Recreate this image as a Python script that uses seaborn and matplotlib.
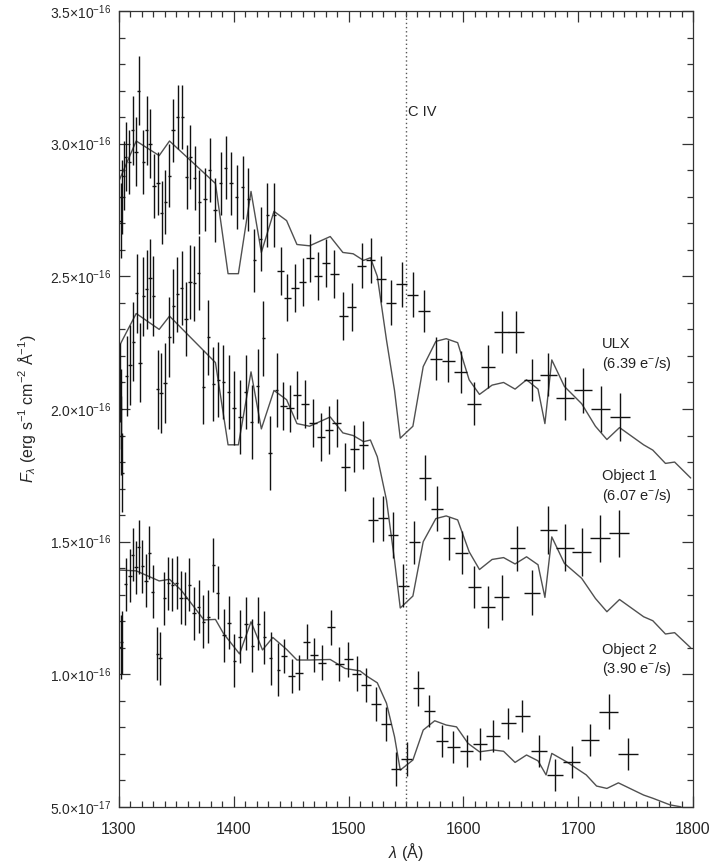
import matplotlib
matplotlib.use("Agg")
import matplotlib.pyplot as plt
import seaborn as sns
import pandas as pd
from matplotlib.ticker import MultipleLocator, FixedLocator, FixedFormatter

# ---------------------------------------------------------------- data
# Flux densities are in units of 1e-16 erg s^-1 cm^-2 A^-1, wavelengths in A.

# Model spectra (thin grey curves)
model_ulx_wave = [1300, 1315, 1335, 1344, 1384, 1395, 1404, 1415, 1424, 1435, 1446,
                  1455, 1466, 1484, 1495, 1504, 1513, 1519, 1525, 1533, 1540, 1545,
                  1556, 1565, 1576, 1585, 1595, 1605, 1614, 1625, 1635, 1645, 1655,
                  1665, 1671, 1677, 1688, 1703, 1715, 1725, 1736, 1757, 1765, 1776,
                  1784, 1798]
model_ulx_flux = [2.86, 3.01, 2.955, 3.01, 2.85, 2.51, 2.51, 2.82, 2.59, 2.745, 2.71,
                  2.62, 2.615, 2.65, 2.59, 2.585, 2.56, 2.57, 2.50, 2.26, 2.07, 1.89,
                  1.935, 2.16, 2.255, 2.265, 2.25, 2.11, 2.055, 2.09, 2.10, 2.075, 2.11,
                  2.075, 1.945, 2.185, 2.085, 2.02, 1.935, 1.885, 1.93, 1.865, 1.845, 1.795,
                  1.80, 1.74]
model_obj1_wave = model_ulx_wave
model_obj1_flux = [2.235, 2.36, 2.30, 2.35, 2.175, 1.865, 1.865, 2.14, 1.925, 2.07, 2.035,
                   1.945, 1.935, 1.97, 1.91, 1.90, 1.877, 1.883, 1.82, 1.657, 1.43, 1.25,
                   1.295, 1.50, 1.587, 1.597, 1.582, 1.462, 1.395, 1.433, 1.44, 1.416, 1.443,
                   1.413, 1.29, 1.518, 1.418, 1.362, 1.286, 1.236, 1.282, 1.217, 1.202, 1.152,
                   1.157, 1.10]
model_obj2_wave = [1300, 1315, 1335, 1344, 1354, 1374, 1384, 1391, 1405, 1415, 1425, 1434,
                   1446, 1455, 1466, 1484, 1497, 1510, 1516, 1525, 1533, 1540, 1545, 1556,
                   1565, 1575, 1585, 1594, 1604, 1614, 1626, 1635, 1645, 1655, 1665, 1672,
                   1677, 1690, 1707, 1716, 1725, 1735, 1757, 1765, 1780, 1789, 1798]
model_obj2_flux = [1.393, 1.39, 1.352, 1.358, 1.318, 1.205, 1.207, 1.154, 1.077, 1.198, 1.092,
                   1.139, 1.094, 1.054, 1.054, 1.056, 1.022, 1.013, 0.993, 0.968, 0.891, 0.765,
                   0.639, 0.677, 0.79, 0.825, 0.809, 0.802, 0.74, 0.708, 0.715, 0.71, 0.668,
                   0.696, 0.674, 0.621, 0.702, 0.67, 0.621, 0.579, 0.57, 0.591, 0.545, 0.533,
                   0.508, 0.501, 0.48]

# Binned data: ULX
ulx_wave = [1301.5, 1302.5, 1304.0, 1306.0, 1309.0, 1312.0, 1314.8, 1317.0, 1321.0, 1324.0,
            1327.0, 1330.5, 1334.0, 1337.2, 1340.3, 1343.8, 1347.0, 1351.0, 1355.0, 1359.0,
            1362.0, 1366.0, 1370.0, 1375.0, 1379.0, 1383.6, 1388.6, 1393.0, 1397.6, 1402.5,
            1407.8, 1412.6, 1417.9, 1423.5, 1429.3, 1435.3,
            1440.8, 1446.6, 1453.3, 1460.0, 1466.4, 1473.0, 1480.3, 1487.6, 1495.4, 1502.7,
            1511.4, 1519.2, 1528.2, 1537.0, 1546.3, 1555.8, 1565.7, 1576.1, 1586.8, 1597.6,
            1609.2, 1621.4, 1633.3, 1645.8, 1659.5, 1674.0, 1688.5, 1704.0, 1719.6, 1736.4]
ulx_flux = [2.71, 2.80, 2.88, 2.95, 2.93, 3.05, 2.97, 3.20, 2.93, 3.05,
            3.00, 2.84, 2.85, 2.74, 2.78, 2.88, 3.05, 3.10, 3.10, 2.875,
            2.95, 2.87, 2.78, 2.79, 2.90, 2.75, 2.85, 2.91, 2.85, 2.80,
            2.835, 2.79, 2.56, 2.64, 2.73, 2.73,
            2.52, 2.42, 2.455, 2.48, 2.57, 2.50, 2.55, 2.51, 2.35, 2.385,
            2.54, 2.56, 2.49, 2.40, 2.47, 2.43, 2.37, 2.19, 2.18, 2.14,
            2.02, 2.16, 2.29, 2.29, 2.11, 2.13, 2.04, 2.07, 2.00, 1.97]
ulx_ferr = [0.14, 0.14, 0.13, 0.13, 0.12, 0.13, 0.13, 0.13, 0.12, 0.13,
            0.13, 0.12, 0.12, 0.12, 0.12, 0.12, 0.12, 0.12, 0.12, 0.12,
            0.12, 0.12, 0.12, 0.12, 0.12, 0.12, 0.12, 0.12, 0.12, 0.12,
            0.12, 0.12, 0.12, 0.12, 0.12, 0.12,
            0.09, 0.09, 0.09, 0.09, 0.09, 0.09, 0.09, 0.09, 0.09, 0.09,
            0.085, 0.085, 0.085, 0.085, 0.085, 0.085, 0.08, 0.08, 0.08, 0.08,
            0.08, 0.08, 0.08, 0.08, 0.08, 0.08, 0.08, 0.085, 0.085, 0.09]

# Binned data: Object 1
obj1_wave = [1301.0, 1301.5, 1302.0, 1303.0, 1306.7, 1309.6, 1312.5, 1315.4, 1318.3, 1321.2,
             1324.1, 1327.0, 1329.9, 1333.7, 1336.6, 1340.1, 1343.8, 1347.3, 1350.8, 1354.6,
             1358.4, 1361.8, 1365.6, 1369.4, 1373.4, 1377.8, 1382.1, 1386.5, 1390.9, 1395.5,
             1400.2, 1405.4, 1410.4, 1415.6, 1420.8, 1425.7, 1431.5, 1437.4,
             1443.0, 1449.0, 1455.3, 1462.0, 1468.7, 1475.7, 1482.7, 1489.6, 1497.1, 1505.0,
             1512.8, 1521.0, 1529.7, 1538.4, 1547.7, 1557.0, 1566.6, 1576.7, 1587.5, 1598.5,
             1609.5, 1621.7, 1633.4, 1647.0, 1660.0, 1674.0, 1688.5, 1703.0, 1719.0, 1735.8]
obj1_flux = [2.10, 2.00, 1.90, 1.76, 2.125, 2.166, 2.254, 2.436, 2.175, 2.424,
             2.451, 2.492, 2.426, 2.074, 2.061, 2.097, 2.272, 2.389, 2.432, 2.455,
             2.338, 2.479, 2.473, 2.513, 2.084, 2.27, 2.094, 2.111, 2.103, 2.065,
             2.003, 1.97, 2.065, 1.952, 2.087, 2.266, 1.833, 2.072,
             2.011, 2.002, 2.053, 2.018, 1.948, 1.894, 1.921, 1.948, 1.782, 1.851,
             1.864, 1.582, 1.588, 1.525, 1.334, 1.497, 1.741, 1.625, 1.512, 1.459,
             1.33, 1.253, 1.29, 1.475, 1.307, 1.544, 1.478, 1.462, 1.512, 1.531]
obj1_ferr = [0.15, 0.15, 0.15, 0.15, 0.15, 0.15, 0.15, 0.15, 0.15, 0.15,
             0.15, 0.15, 0.15, 0.15, 0.15, 0.15, 0.15, 0.14, 0.14, 0.14,
             0.14, 0.14, 0.14, 0.14, 0.14, 0.14, 0.14, 0.14, 0.14, 0.14,
             0.14, 0.14, 0.14, 0.14, 0.14, 0.14, 0.14, 0.14,
             0.09, 0.09, 0.09, 0.09, 0.09, 0.09, 0.09, 0.09, 0.09, 0.09,
             0.09, 0.085, 0.085, 0.085, 0.08, 0.08, 0.085, 0.085, 0.08, 0.08,
             0.08, 0.08, 0.085, 0.085, 0.085, 0.09, 0.09, 0.09, 0.09, 0.09]

# Binned data: Object 2
obj2_wave = [1301.5, 1302.5, 1306.0, 1309.6, 1312.0, 1314.8, 1317.0, 1320.3, 1323.5, 1326.4,
             1329.3, 1333.4, 1335.7, 1339.5, 1343.0, 1346.4, 1350.3, 1354.0, 1357.8, 1361.3,
             1365.3, 1369.4, 1373.5, 1377.8, 1382.1, 1386.0, 1391.5, 1395.8, 1400.4, 1405.4,
             1410.6, 1416.1, 1421.3, 1426.6, 1432.1, 1438.8,
             1443.7, 1450.4, 1456.8, 1463.5, 1469.9, 1477.1, 1484.4, 1491.9, 1499.7, 1507.0,
             1515.2, 1523.9, 1532.6, 1541.3, 1550.6, 1560.7, 1570.3, 1581.1, 1591.2, 1602.9,
             1614.5, 1626.0, 1639.0, 1651.3, 1666.1, 1679.8, 1694.3, 1710.3, 1726.8, 1743.6]
obj2_flux = [1.104, 1.12, 1.339, 1.371, 1.45, 1.403, 1.48, 1.408, 1.353, 1.458,
             1.311, 1.077, 1.06, 1.286, 1.343, 1.337, 1.345, 1.289, 1.286, 1.337,
             1.23, 1.255, 1.198, 1.217, 1.412, 1.308, 1.148, 1.194, 1.051, 1.141,
             1.19, 1.107, 1.19, 1.139, 1.06, 1.018,
             1.069, 0.994, 1.006, 1.123, 1.073, 1.044, 1.177, 1.039, 1.056, 1.003,
             0.96, 0.888, 0.813, 0.643, 0.681, 0.947, 0.863, 0.749, 0.727, 0.711,
             0.736, 0.768, 0.815, 0.843, 0.712, 0.621, 0.671, 0.753, 0.859, 0.699]
obj2_ferr = [0.12, 0.12, 0.1, 0.1, 0.1, 0.1, 0.1, 0.1, 0.1, 0.1,
             0.1, 0.1, 0.1, 0.1, 0.1, 0.1, 0.1, 0.1, 0.1, 0.1,
             0.1, 0.1, 0.1, 0.1, 0.1, 0.1, 0.1, 0.1, 0.1, 0.1,
             0.1, 0.1, 0.1, 0.1, 0.1, 0.1,
             0.065, 0.065, 0.065, 0.065, 0.065, 0.065, 0.065, 0.065, 0.065, 0.065,
             0.065, 0.065, 0.065, 0.065, 0.065, 0.065, 0.06, 0.06, 0.06, 0.06,
             0.06, 0.06, 0.06, 0.06, 0.06, 0.06, 0.06, 0.06, 0.065, 0.06]

# Half widths of the wavelength bins: narrow bins blueward of 1440 A,
# then progressively wider bins toward the red end.
narrow_bin_halfwidth = 1.4
wide_bin_halfwidth = [3.0, 3.2, 3.3, 3.3, 3.4, 3.5, 3.6, 3.7, 3.8, 3.9,
                      4.0, 4.2, 4.4, 4.5, 4.7, 4.8, 5.0, 5.3, 5.5, 5.7,
                      5.9, 6.1, 6.4, 6.7, 7.0, 7.3, 7.6, 8.0, 8.3, 8.6]

labels = [("ULX", "(6.39 e$^{-}$/s)", 2.245, 2.170),
          ("Object 1", "(6.07 e$^{-}$/s)", 1.748, 1.672),
          ("Object 2", "(3.90 e$^{-}$/s)", 1.092, 1.020)]

civ_wave = 1550.0

y_ticks = [0.5, 1.0, 1.5, 2.0, 2.5, 3.0, 3.5]
y_ticklabels = [r"5.0$\times$10$^{-17}$", r"1.0$\times$10$^{-16}$", r"1.5$\times$10$^{-16}$",
                r"2.0$\times$10$^{-16}$", r"2.5$\times$10$^{-16}$", r"3.0$\times$10$^{-16}$",
                r"3.5$\times$10$^{-16}$"]
x_ticks = [1300, 1400, 1500, 1600, 1700, 1800]

# ---------------------------------------------------------------- style
sns.set_theme(style="ticks")
plt.rcParams["font.family"] = ["Liberation Sans", "DejaVu Sans"]
plt.rcParams["mathtext.fontset"] = "custom"
plt.rcParams["mathtext.rm"] = "Liberation Sans"
plt.rcParams["mathtext.it"] = "Liberation Sans:italic"
plt.rcParams["mathtext.default"] = "regular"

ink = "#111111"
model_grey = "#505050"

fig = plt.figure(figsize=(7.12, 8.65), dpi=100)
ax = fig.add_axes([119 / 712, 1 - 807 / 865, (693 - 119) / 712, (807 - 11) / 865])

# model curves
for w, f in [(model_ulx_wave, model_ulx_flux),
             (model_obj1_wave, model_obj1_flux),
             (model_obj2_wave, model_obj2_flux)]:
    sns.lineplot(data=pd.DataFrame({"wave": w, "flux": f}), x="wave", y="flux",
                 color=model_grey, lw=1.0, ax=ax, estimator=None, sort=False)

# data with error bars
for w, f, e in [(ulx_wave, ulx_flux, ulx_ferr),
                (obj1_wave, obj1_flux, obj1_ferr),
                (obj2_wave, obj2_flux, obj2_ferr)]:
    n_narrow = len(w) - len(wide_bin_halfwidth)
    xerr = [narrow_bin_halfwidth] * n_narrow + wide_bin_halfwidth
    ax.errorbar(w, f, xerr=xerr, yerr=e, fmt="none", ecolor=ink,
                elinewidth=1.0, capsize=0)

# C IV marker
ax.axvline(civ_wave, color="#555555", lw=1.0, ls=(0, (1, 2)))
ax.text(civ_wave + 2, 3.12, "C IV", fontsize=10.5, color="#222222", ha="left", va="center")

for name, rate, y1, y2 in labels:
    ax.text(1720.7, y1, name, fontsize=10.5, color="#222222", ha="left", va="center")
    ax.text(1720.7, y2, rate, fontsize=10.5, color="#222222", ha="left", va="center")

ax.set_xlim(1300, 1800)
ax.set_ylim(0.5, 3.5)
ax.xaxis.set_major_locator(FixedLocator(x_ticks))
ax.xaxis.set_minor_locator(MultipleLocator(10))
ax.yaxis.set_major_locator(FixedLocator(y_ticks))
ax.yaxis.set_major_formatter(FixedFormatter(y_ticklabels))
ax.yaxis.set_minor_locator(MultipleLocator(0.1))
ax.tick_params(which="both", direction="in", top=True, right=True, color="#333333", width=0.9)
ax.tick_params(which="major", length=8)
ax.tick_params(which="minor", length=4.3)
ax.tick_params(axis="x", labelsize=11.5, pad=11)
ax.tick_params(axis="y", labelsize=10, pad=6)
for s in ax.spines.values():
    s.set_color("#333333")
    s.set_linewidth(0.9)

ax.set_xlabel(r"$\mathit{\lambda}$ (Å)", fontsize=11.5, labelpad=3)
ax.set_ylabel(r"$\mathit{F_\lambda}$ (erg s$^{-1}$ cm$^{-2}$ Å$^{-1}$)", fontsize=11.5, labelpad=8)

fig.savefig("out.png", dpi=100)
